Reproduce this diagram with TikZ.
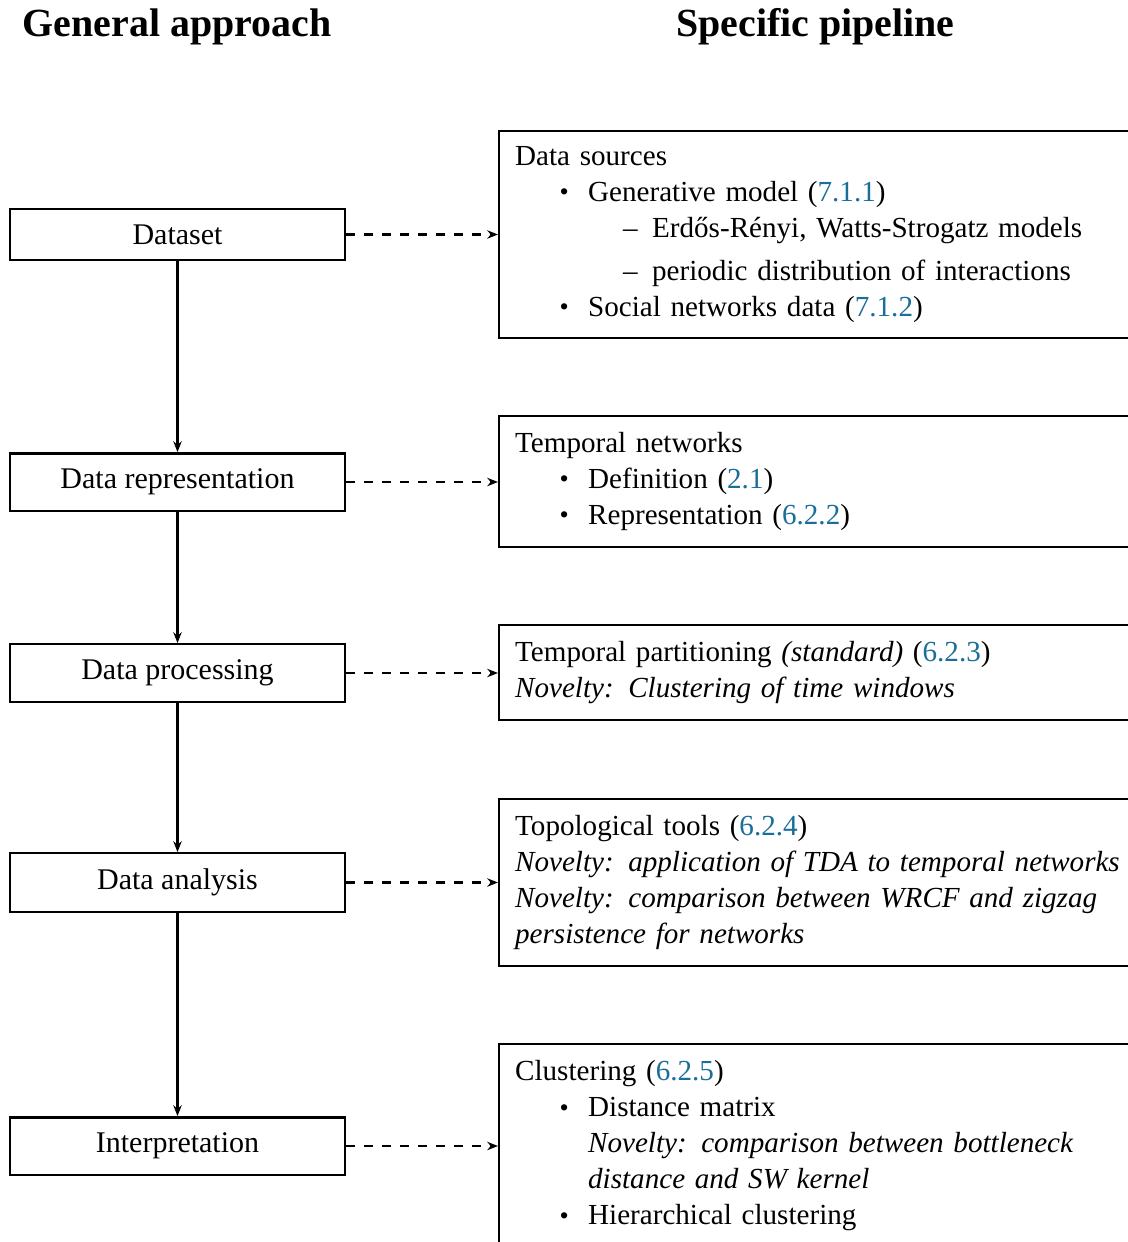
\documentclass[tikz,border=0pt]{standalone}
\usepackage{fontspec}
\usepackage{graphicx}
\setmainfont{Liberation Serif}
\usetikzlibrary{arrows.meta}
\definecolor{refblue}{RGB}{26,110,152}
\newcommand\rf[1]{\textcolor{refblue}{#1}}
\newcommand\smallbullet{\raisebox{0.3pt}{\scalebox{0.9}{\textbullet}}}
\newcommand\lvone{\hspace*{14.8pt}\makebox[9.53pt][l]{\smallbullet}}
\newcommand\lvtwo{\hspace*{36pt}\makebox[9.67pt][l]{--}}
\newcommand\lvcont{\hspace*{24.33pt}}
\begin{document}
\begin{tikzpicture}[x=0.33333pt, y=-0.33333pt,
  lbox/.style={draw, line width=0.8pt, minimum width=111.67pt, inner xsep=0pt, inner ysep=5.19pt},
  rbox/.style={draw, line width=0.8pt, anchor=west, text width=215pt, inner xsep=5.33pt, align=left,
    font=\fontsize{9.7}{12}\selectfont},
  flow/.style={-{Stealth[length=3.6pt,width=2.8pt]}, line width=0.7pt},
  dflow/.style={flow, dashed},
  title/.style={anchor=base, font=\fontsize{13.3}{16}\selectfont\bfseries}]
\useasboundingbox (0,0) rectangle (1128,1242);
\clip (0,0) rectangle (1128,1242);

\node[title] (tg) at (177,36) {General approach};
\node[title] (ts) at (815.5,36) {Specific pipeline};

\node[lbox] (l1) at (177.5,234.5) {Dataset};
\node[lbox] (l2) at (177.5,482) {Data representation};
\node[lbox] (l3) at (177.5,673) {Data processing};
\node[lbox] (l4) at (177.5,882.5) {Data analysis};
\node[lbox] (l5) at (177.5,1146) {Interpretation};

\node[rbox, minimum height=69pt] (r1) at (498,234.5) {Data sources\\
\lvone Generative model (\rf{7.1.1})\\
\lvtwo Erdős-Rényi, Watts-Strogatz models\\[2.33pt]
\lvtwo periodic distribution of interactions\\
\lvone Social networks data (\rf{7.1.2})};

\node[rbox, minimum height=43.67pt] (r2) at (498,481.5) {Temporal networks\\
\lvone Definition (\rf{2.1})\\
\lvone Representation (\rf{6.2.2})};

\node[rbox, minimum height=31.67pt] (r3) at (498,672.5) {Temporal partitioning \textit{(standard)} (\rf{6.2.3})\\
\textit{Novelty: Clustering of time windows}};

\node[rbox, minimum height=55.67pt] (r4) at (498,882.5) {Topological tools (\rf{6.2.4})\\
\textit{Novelty: application of TDA to temporal networks}\\
\textit{Novelty: comparison between WRCF and zigzag}\\
\textit{persistence for networks}};

\node[rbox, minimum height=68pt] (r5) at (498,1146) {Clustering (\rf{6.2.5})\\
\lvone Distance matrix\\
\lvcont\textit{Novelty: comparison between bottleneck}\\
\lvcont\textit{distance and SW kernel}\\
\lvone Hierarchical clustering};

\foreach \a/\b in {l1/l2, l2/l3, l3/l4, l4/l5}
  \draw[flow] (\a) -- (\b);
\foreach \i in {1,...,5}
  \draw[dflow] (l\i.east) -- (l\i.east -| r\i.west);
\end{tikzpicture}
\end{document}
